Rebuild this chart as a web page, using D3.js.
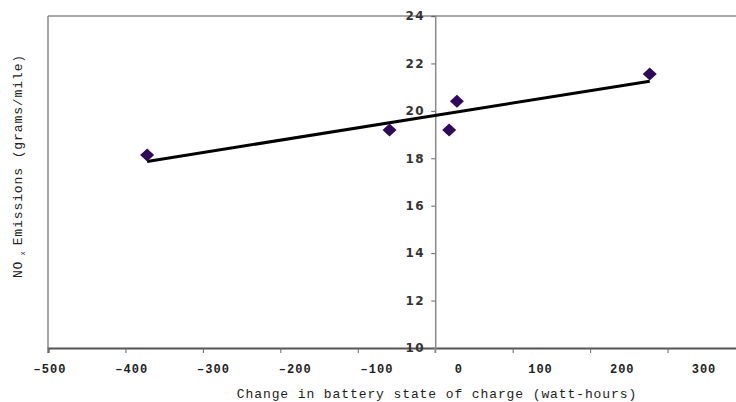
<!DOCTYPE html>
<html>
<head>
    <title>NOx Emissions vs Battery State of Charge</title>
    <script src="https://d3js.org/d3.v7.min.js"></script>
    <style>
        body { margin: 0; background: #fff; }
        text { font-family: "Liberation Mono", "Courier New", monospace; fill: #222; }
    </style>
</head>
<body>
    <div id="chart"></div>

    <script>
        // data
        const socChange = [-372, -59, 18, 28, 277];
        const noxValues = [18.14, 19.19, 19.19, 20.4, 21.55];
        const xTicks = [-500, -400, -300, -200, -100, 0, 100, 200, 300, 400];
        const xTickLabels = [-500, -400, -300, -200, -100, 0, 100, 200, 300];
        const yTicks = [10, 12, 14, 16, 18, 20, 22, 24];

        const width = 736, height = 402;

        const svg = d3.select('#chart')
            .append('svg')
            .attr('width', width)
            .attr('height', height);

        const x = d3.scaleLinear().domain([-500, 400]).range([48, 745]);
        // the printed labels sit slightly stretched relative to the ticks
        const xLabel = d3.scaleLinear().domain([-500, 300]).range([50, 704]);
        const y = d3.scaleLinear().domain([10, 24]).range([348, 16]);

        // frame: top and left
        svg.append('line')
            .attr('x1', x(-500)).attr('x2', width)
            .attr('y1', y(24)).attr('y2', y(24))
            .attr('stroke', '#8a8a8a').attr('stroke-width', 1.5);
        svg.append('line')
            .attr('x1', x(-500)).attr('x2', x(-500))
            .attr('y1', y(24)).attr('y2', y(10))
            .attr('stroke', '#8a8a8a').attr('stroke-width', 1.5);

        // x axis along the bottom
        const xAxis = svg.append('g')
            .attr('transform', `translate(0,${y(10)})`)
            .call(d3.axisBottom(x).tickValues(xTicks).tickSize(5).tickFormat(''));
        xAxis.select('.domain').attr('stroke', '#555').attr('stroke-width', 2.2);
        xAxis.selectAll('.tick line').attr('stroke', '#666').attr('stroke-width', 1);

        svg.append('g')
            .selectAll('text')
            .data(xTickLabels)
            .enter()
            .append('text')
            .attr('x', d => xLabel(d))
            .attr('y', 373)
            .attr('text-anchor', 'middle')
            .style('font-size', '12px')
            .style('font-weight', 'bold')
            .style('letter-spacing', '1px')
            .text(d => d < 0 ? '\u2013' + Math.abs(d) : d);

        // y axis crossing at x = 0
        const yAxis = svg.append('g')
            .attr('transform', `translate(${x(0)},0)`)
            .call(d3.axisLeft(y).tickValues(yTicks).tickSize(4).tickPadding(6));
        yAxis.select('.domain').attr('stroke', '#8a8a8a').attr('stroke-width', 1.5);
        yAxis.selectAll('.tick line').attr('stroke', '#666');
        yAxis.selectAll('.tick text')
            .style('font-family', '"DejaVu Sans", sans-serif')
            .style('font-size', '12px')
            .style('font-weight', 'bold')
            .style('letter-spacing', '1.5px')
            .style('fill', '#333');
        svg.append('line')
            .attr('x1', x(0)).attr('x2', x(0))
            .attr('y1', y(10)).attr('y2', y(10) + 5)
            .attr('stroke', '#8a8a8a').attr('stroke-width', 1.5);

        // linear trend line
        const n = socChange.length;
        const mx = d3.mean(socChange), my = d3.mean(noxValues);
        let sxy = 0, sxx = 0;
        for (let i = 0; i < n; i++) {
            sxy += (socChange[i] - mx) * (noxValues[i] - my);
            sxx += (socChange[i] - mx) ** 2;
        }
        const slope = sxy / sxx, icept = my - slope * mx;
        const ends = d3.extent(socChange);
        svg.append('line')
            .attr('x1', x(ends[0])).attr('y1', y(icept + slope * ends[0]))
            .attr('x2', x(ends[1])).attr('y2', y(icept + slope * ends[1]))
            .attr('stroke', '#000').attr('stroke-width', 3);

        // diamond markers
        svg.selectAll('path.pt')
            .data(socChange.map((v, i) => [v, noxValues[i]]))
            .enter()
            .append('path')
            .attr('class', 'pt')
            .attr('transform', d => `translate(${x(d[0])},${y(d[1])})`)
            .attr('d', 'M0,-6.5L7,0L0,6.5L-7,0Z')
            .attr('fill', '#2f0a5a');

        // axis titles
        svg.append('text')
            .attr('x', 437)
            .attr('y', 398)
            .attr('text-anchor', 'middle')
            .style('font-size', '13px')
            .style('letter-spacing', '0.9px')
            .text('Change in battery state of charge (watt-hours)');

        const yt = svg.append('text')
            .attr('transform', 'rotate(-90)')
            .attr('x', -166)
            .attr('y', 22)
            .attr('text-anchor', 'middle')
            .style('font-size', '13px')
            .style('letter-spacing', '0.9px');
        yt.append('tspan').text('NO');
        yt.append('tspan').attr('dy', 3).style('font-size', '7px').text(' x ');
        yt.append('tspan').attr('dy', -3).text(' Emissions (grams/mile)');
    </script>
</body>
</html>
